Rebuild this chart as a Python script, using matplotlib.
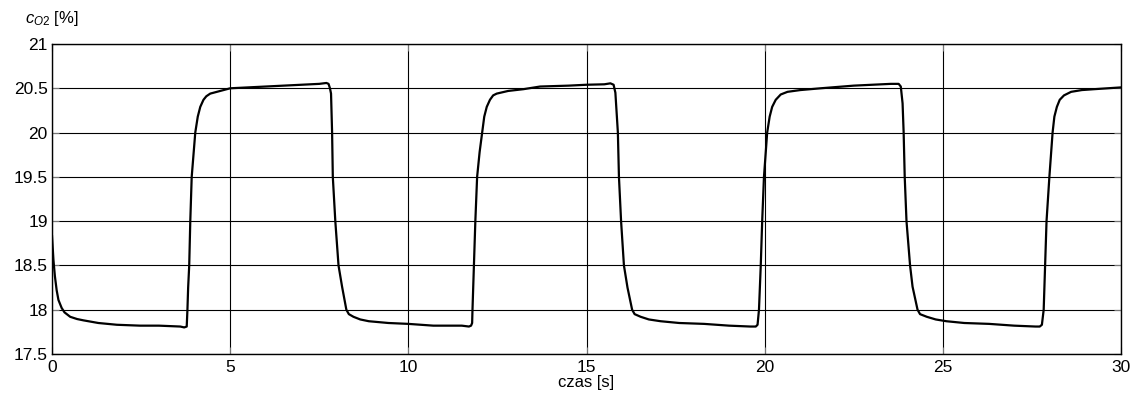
import matplotlib.pyplot as plt

plt.rcParams["font.family"] = ["Liberation Sans", "DejaVu Sans"]
plt.rcParams["mathtext.fontset"] = "custom"
plt.rcParams["mathtext.it"] = "Liberation Sans:italic"
plt.rcParams["mathtext.rm"] = "Liberation Sans"

# time [s] and O2 concentration [%]
t = [0.00, 0.04, 0.08, 0.13, 0.18, 0.27, 0.35, 0.51, 0.70, 0.88, 1.30, 1.82, 2.47, 3.00, 3.60, 3.71, 3.78,
     3.80, 3.82, 3.85, 3.88, 3.92, 3.97, 4.02, 4.09, 4.16, 4.25, 4.33, 4.44, 4.72, 5.00,
     6.00, 7.00, 7.50, 7.70, 7.76, 7.80,
     7.83, 7.86, 7.88, 7.95, 8.04, 8.14, 8.26, 8.33, 8.46, 8.65, 8.89, 9.44, 10.0, 10.7, 11.5, 11.7, 11.76,
     11.79, 11.80, 11.84, 11.88, 11.93, 12.00, 12.07, 12.13, 12.20, 12.29, 12.38, 12.48, 12.80, 13.23,
     13.70, 14.50, 15.00, 15.50, 15.67, 15.76,
     15.81, 15.88, 15.91, 15.97, 16.05, 16.15, 16.28, 16.35, 16.52, 16.75, 17.08, 17.60, 18.30, 19.00,
     19.60, 19.75, 19.80,
     19.84, 19.89, 19.93, 19.98, 20.03, 20.07, 20.14, 20.21, 20.31, 20.45, 20.64, 21.00, 21.57, 22.50,
     23.54, 23.76, 23.82,
     23.87, 23.90, 23.93, 23.98, 24.08, 24.15, 24.29, 24.36, 24.55, 24.80, 25.10, 25.60, 26.30, 27.00,
     27.60, 27.72, 27.78,
     27.83, 27.87, 27.91, 27.99, 28.04, 28.08, 28.13, 28.20, 28.28, 28.40, 28.60, 28.90, 29.25, 30.00]
c_o2 = [18.83, 18.56, 18.38, 18.22, 18.11, 18.02, 17.97, 17.92, 17.895, 17.88, 17.85, 17.83, 17.82, 17.82,
        17.81, 17.80, 17.81,
        18.00, 18.25, 18.50, 19.00, 19.50, 19.75, 20.00, 20.18, 20.29, 20.37, 20.41, 20.44, 20.47, 20.50,
        20.52, 20.54, 20.55, 20.56, 20.55, 20.50,
        20.44, 20.00, 19.50, 19.00, 18.50, 18.26, 18.00, 17.95, 17.92, 17.89, 17.87, 17.85, 17.84, 17.82,
        17.82, 17.81, 17.82,
        17.85, 18.00, 18.50, 19.00, 19.50, 19.78, 20.00, 20.18, 20.29, 20.37, 20.42, 20.44, 20.47, 20.49,
        20.52, 20.53, 20.54, 20.545, 20.556, 20.54,
        20.45, 20.00, 19.50, 19.00, 18.50, 18.25, 18.00, 17.95, 17.92, 17.89, 17.87, 17.85, 17.84, 17.82,
        17.81, 17.81, 17.83,
        18.00, 18.50, 19.00, 19.50, 19.78, 20.00, 20.18, 20.29, 20.37, 20.43, 20.46, 20.48, 20.50, 20.53,
        20.55, 20.55, 20.52,
        20.33, 20.00, 19.50, 19.00, 18.50, 18.26, 18.00, 17.95, 17.92, 17.89, 17.87, 17.85, 17.84, 17.82,
        17.81, 17.81, 17.83,
        18.00, 18.50, 19.00, 19.50, 19.78, 20.00, 20.18, 20.29, 20.37, 20.42, 20.46, 20.48, 20.49, 20.51]

xticks = [0, 5, 10, 15, 20, 25, 30]
yticks = [17.5, 18, 18.5, 19, 19.5, 20, 20.5, 21]
ytick_labels = ["17.5", "18", "18.5", "19", "19.5", "20", "20.5", "21"]

fig = plt.figure(figsize=(11.36, 4.03), dpi=100)
ax = fig.add_axes([0.0458, 0.1216, 0.941, 0.7692])

ax.plot(t, c_o2, color="black", linewidth=1.6)

ax.set_xlim(0, 30)
ax.set_ylim(17.5, 21)
ax.set_xticks(xticks)
ax.set_yticks(yticks)
ax.set_yticklabels(ytick_labels)
ax.grid(True, color="black", linewidth=0.8)
ax.tick_params(direction="in", length=5, width=0.8, labelsize=12.5,
               top=True, right=True, colors="#777777", labelcolor="black")
ax.tick_params(axis="x", pad=4)
ax.tick_params(axis="y", pad=3)
for s in ax.spines.values():
    s.set_linewidth(1.0)
    s.set_color("black")

ax.set_xlabel("czas [s]", fontsize=12, labelpad=0)
fig.text(0.022, 0.93, r"$c_{\mathit{O2}}$ [%]", fontsize=12, ha="left", va="bottom")

fig.savefig("out.png", dpi=100)
